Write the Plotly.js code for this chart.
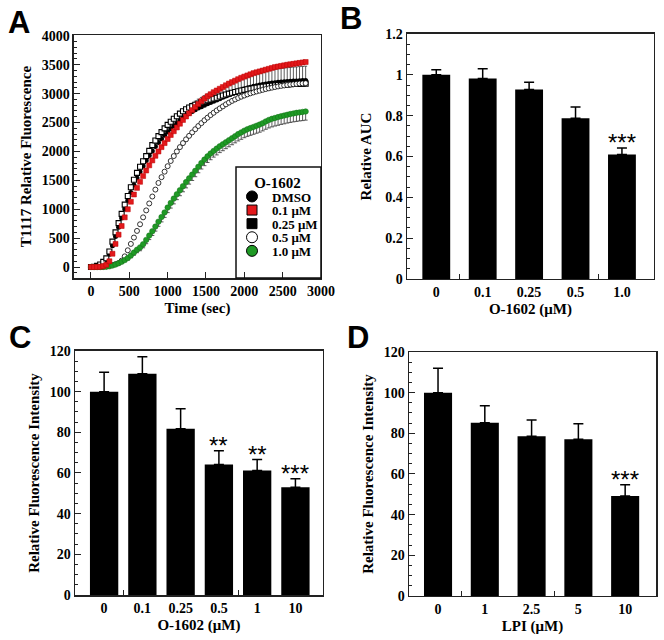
<!DOCTYPE html>
<html><head><meta charset="utf-8">
<script src="https://cdn.plot.ly/plotly-3.0.1.min.js"></script>
<style>html,body{margin:0;padding:0;background:#fff}#chart{width:664px;height:640px}</style>
</head><body><div id="chart"></div>
<script>
// ---------- Panel A: kinetic curves ----------
const timeSec = [0,40,80,120,160,200,240,280,320,360,400,440,480,520,560,600,640,680,720,760,800,840,880,920,960,1000,1040,1080,1120,1160,1200,1240,1280,1320,1360,1400,1440,1480,1520,1560,1600,1640,1680,1720,1760,1800,1840,1880,1920,1960,2000,2040,2080,2120,2160,2200,2240,2280,2320,2360,2400,2440,2480,2520,2560,2600,2640,2680,2720,2760,2800];
const dmso = [0,3,12,30,65,120,220,370,530,690,850,1005,1150,1290,1420,1540,1650,1750,1845,1930,2010,2085,2155,2220,2280,2335,2390,2440,2490,2535,2580,2620,2655,2690,2720,2750,2775,2800,2825,2848,2870,2892,2914,2936,2958,2980,3002,3024,3045,3064,3082,3098,3113,3127,3139,3150,3160,3169,3177,3184,3190,3196,3201,3206,3210,3214,3218,3221,3224,3227,3230];
const dmsoErr = [0,2,5,10,15,20,30,40,45,50,55,60,60,65,65,70,70,70,75,75,80,80,85,90,95,100,105,110,115,120,125,130,140,145,150,155,160,165,170,175,180,185,190,195,200,200,205,210,210,215,215,220,220,225,225,228,230,230,232,234,235,236,238,238,240,240,242,242,244,244,245];
const dose01 = [0,0,2,5,15,40,100,230,400,560,710,860,1000,1130,1255,1370,1475,1575,1670,1760,1845,1925,2000,2075,2145,2215,2285,2350,2415,2480,2545,2605,2660,2715,2770,2820,2870,2915,2955,2990,3025,3055,3085,3115,3145,3175,3200,3225,3250,3275,3295,3315,3335,3355,3370,3385,3400,3415,3430,3445,3460,3470,3480,3490,3500,3508,3516,3524,3532,3540,3548];
const dose025 = [0,5,20,45,90,150,270,440,600,760,920,1080,1230,1380,1510,1630,1735,1830,1920,2010,2110,2190,2265,2335,2400,2460,2515,2565,2610,2655,2695,2730,2760,2785,2808,2830,2850,2868,2885,2900,2915,2930,2950,2968,2985,3000,3015,3030,3042,3055,3066,3077,3087,3096,3105,3113,3120,3127,3133,3139,3144,3149,3153,3157,3160,3163,3166,3168,3170,3172,3174];
const dose05 = [0,0,0,2,6,12,22,35,50,68,110,185,290,400,510,625,740,860,980,1100,1220,1340,1455,1555,1650,1745,1835,1920,2000,2075,2145,2210,2270,2330,2385,2440,2490,2540,2585,2630,2670,2710,2745,2780,2815,2845,2875,2900,2925,2948,2968,2988,3006,3022,3038,3052,3066,3080,3092,3104,3115,3125,3134,3142,3150,3157,3163,3169,3174,3178,3182];
const dose10 = [0,0,0,0,2,5,12,25,42,65,90,120,155,200,250,300,340,395,470,545,620,700,785,865,945,1030,1110,1185,1260,1330,1400,1470,1535,1600,1665,1735,1800,1860,1915,1965,2010,2050,2090,2125,2160,2195,2230,2265,2300,2330,2360,2385,2405,2425,2445,2465,2490,2520,2545,2565,2580,2595,2610,2622,2635,2648,2658,2668,2676,2684,2692];
const dose10Err = [0,0,0,0,2,4,6,10,14,18,22,28,34,40,46,52,58,62,66,70,74,78,80,84,86,88,90,92,94,96,98,100,100,102,102,104,104,106,106,108,108,110,110,112,112,114,114,116,118,120,122,124,126,128,130,132,134,136,138,140,140,142,142,144,144,146,146,148,148,150,150];
const legendTitle = 'O-1602';
const legendLabels = ['DMSO', '0.1 μM', '0.25 μM', '0.5 μM', '1.0 μM'];

// ---------- Panel B: relative AUC ----------
const aucDoses = ['0', '0.1', '0.25', '0.5', '1.0'];
const aucMean = [1.0, 0.982, 0.928, 0.787, 0.61];
const aucSem = [0.025, 0.048, 0.035, 0.055, 0.032];
const aucSig = ['', '', '', '', '***'];

// ---------- Panel C: O-1602 fluorescence ----------
const cDoses = ['0', '0.1', '0.25', '0.5', '1', '10'];
const cMean = [100, 108.8, 81.8, 64.2, 61.2, 53];
const cSem = [9.6, 8.4, 9.8, 6.8, 5.4, 4.2];
const cSig = ['', '', '', '**', '**', '***'];

// ---------- Panel D: LPI fluorescence ----------
const lpiDoses = ['0', '1', '2.5', '5', '10'];
const lpiMean = [100, 85.2, 78.6, 77.1, 49.2];
const lpiSem = [12, 8.4, 7.9, 7.6, 5.5];
const lpiSig = ['', '', '', '', '***'];

const SERIF = '"Liberation Serif", "Times New Roman", serif';
const SANS = '"Liberation Sans", Arial, sans-serif';
const RED = '#e3191c', GREEN = '#1f9a25';
const zeros = a => a.map(() => 0);

const traces = [];
traces.push({type:'scatter', mode:'markers', x:timeSec, y:dmso, xaxis:'x', yaxis:'y', showlegend:false,
  marker:{symbol:'circle', size:5, color:'#000'},
  error_y:{type:'data', symmetric:false, array:dmsoErr, arrayminus:zeros(dmsoErr), color:'#333', thickness:0.8, width:1.5}});
traces.push({type:'scatter', mode:'markers', x:timeSec, y:dose025, xaxis:'x', yaxis:'y', showlegend:false,
  marker:{symbol:'square', size:5, color:'#fff', line:{color:'#000', width:1.1}}});
traces.push({type:'scatter', mode:'markers', x:timeSec, y:dose05, xaxis:'x', yaxis:'y', showlegend:false,
  marker:{symbol:'circle', size:5, color:'#fff', line:{color:'#000', width:0.8}}});
traces.push({type:'scatter', mode:'markers', x:timeSec, y:dose10, xaxis:'x', yaxis:'y', showlegend:false,
  marker:{symbol:'circle', size:5.5, color:GREEN, line:{color:'#137018', width:0.5}},
  error_y:{type:'data', symmetric:false, array:zeros(dose10Err), arrayminus:dose10Err, color:'#333', thickness:0.8, width:2}});
traces.push({type:'scatter', mode:'markers', x:timeSec, y:dose01, xaxis:'x', yaxis:'y', showlegend:false,
  marker:{symbol:'square', size:5, color:RED, line:{color:'#b00', width:0.5}}});

const legendMarkers = [
  {symbol:'circle', size:11, color:'#000', line:{color:'#000', width:1}},
  {symbol:'square', size:10, color:RED, line:{color:'#000', width:1}},
  {symbol:'square', size:10, color:'#000', line:{color:'#000', width:1}},
  {symbol:'circle', size:11, color:'#fff', line:{color:'#000', width:1}},
  {symbol:'circle', size:11, color:GREEN, line:{color:'#000', width:1}}
];
legendLabels.forEach((name, i) => {
  traces.push({type:'scatter', mode:'markers', x:[null], y:[null], xaxis:'x', yaxis:'y', name:name, showlegend:true, marker:legendMarkers[i]});
});

function barTrace(cats, mean, sem, xa, ya, w) {
  return {type:'bar', x:cats.map((_, i) => i), y:mean, width:w, xaxis:xa, yaxis:ya, showlegend:false,
    marker:{color:'#000', line:{width:0}},
    error_y:{type:'data', symmetric:false, array:sem, arrayminus:zeros(sem), color:'#000', thickness:1.5, width:5}};
}
traces.push(barTrace(aucDoses, aucMean, aucSem, 'x2', 'y2', 0.6));
traces.push(barTrace(cDoses, cMean, cSem, 'x3', 'y3', 0.74));
traces.push(barTrace(lpiDoses, lpiMean, lpiSem, 'x4', 'y4', 0.6));

const tickFont = {family:SERIF, size:14, color:'#000', weight:'bold'};
const titleFont = {family:SERIF, size:15, color:'#000', weight:'bold'};
function axis(extra) {
  return Object.assign({showline:true, linecolor:'#222', linewidth:1.5, mirror:true, ticks:'inside', ticklen:6,
    tickwidth:1, tickcolor:'#222', showgrid:false, zeroline:false, tickfont:tickFont, fixedrange:true}, extra);
}
function catAxis(cats, domain, anchor, range, title, minorTicks) {
  return axis({domain:domain, anchor:anchor, range:range, tickmode:'array', tickvals:cats.map((_, i) => i), ticktext:cats,
    ticks:'', minor:{tickmode:'array', tickvals:minorTicks, ticks:'inside', ticklen:5, tickwidth:1, tickcolor:'#222'},
    title:{text:title, font:titleFont, standoff:4}});
}

const layout = {
  width:664, height:640, margin:{l:0, r:0, t:0, b:0}, paper_bgcolor:'#fff', plot_bgcolor:'#fff',
  showlegend:true,
  xaxis: axis({domain:[0.1114, 0.4834], anchor:'y', range:[-222, 3000], tick0:0, dtick:500,
    title:{text:'Time (sec)', font:titleFont, standoff:4}}),
  yaxis: axis({domain:[0.5656, 0.9453], anchor:'x', range:[-190, 4015], tick0:0, dtick:500,
    minor:{dtick:100, ticks:'inside', ticklen:3, tickcolor:'#222'},
    title:{text:'T1117 Relative Fluorescence', font:titleFont, standoff:6}}),
  xaxis2: catAxis(aucDoses, [0.6130, 0.9849], 'y2', [-0.63, 4.69], 'O-1602 (μM)', [0.5, 3.5]),
  yaxis2: axis({domain:[0.5641, 0.9469], anchor:'x2', range:[0, 1.2], tick0:0, dtick:0.2,
    minor:{dtick:0.05, ticks:'inside', ticklen:3, tickcolor:'#222'},
    title:{text:'Relative AUC', font:titleFont, standoff:10}}),
  xaxis3: catAxis(cDoses, [0.1130, 0.4864], 'y3', [-0.76, 5.72], 'O-1602 (μM)', [0.5, 3.5]),
  yaxis3: axis({domain:[0.0703, 0.4516], anchor:'x3', range:[0, 120], tick0:0, dtick:20,
    minor:{dtick:5, ticks:'inside', ticklen:3, tickcolor:'#222'},
    title:{text:'Relative Fluorescence Intensity', font:titleFont, standoff:6}}),
  xaxis4: catAxis(lpiDoses, [0.6160, 0.9880], 'y4', [-0.62, 4.66], 'LPI (μM)', [0.5, 2.5]),
  yaxis4: axis({domain:[0.0688, 0.4500], anchor:'x4', range:[0, 120], tick0:0, dtick:20,
    minor:{dtick:5, ticks:'inside', ticklen:3, tickcolor:'#222'},
    title:{text:'Relative Fluorescence Intensity', font:titleFont, standoff:6}}),
  legend:{x:232/664, xanchor:'left', y:1 - 168/640, yanchor:'top', bgcolor:'rgba(0,0,0,0)', borderwidth:0,
    font:{family:SERIF, size:13, color:'#000', weight:'bold'}, itemwidth:30, tracegroupgap:0,
    title:{text:legendTitle, side:'top center', font:{family:SERIF, size:15, color:'#000', weight:'bold'}}},
  shapes:[{type:'rect', xref:'x domain', yref:'y domain', x0:0.656, x1:1, y0:0, y1:0.457,
    line:{color:'#111', width:1.5}, fillcolor:'rgba(0,0,0,0)', layer:'above'}],
  annotations:[]
};

[['A', 19, 22], ['B', 351, 19], ['C', 20, 337], ['D', 358, 337]].forEach(([t, px, py]) => {
  layout.annotations.push({text:'<b>' + t + '</b>', xref:'paper', yref:'paper', x:px / 664, y:1 - py / 640,
    xanchor:'center', yanchor:'middle', showarrow:false, font:{family:SANS, size:31, color:'#000'}});
});
function stars(sig, mean, sem, xa, ya) {
  sig.forEach((s, i) => {
    if (!s) return;
    layout.annotations.push({text:s, xref:xa, yref:ya, x:i, y:mean[i] + sem[i], yanchor:'bottom', yshift:-10,
      showarrow:false, font:{family:SANS, size:24, color:'#000'}});
  });
}
stars(aucSig, aucMean, aucSem, 'x2', 'y2');
stars(cSig, cMean, cSem, 'x3', 'y3');
stars(lpiSig, lpiMean, lpiSem, 'x4', 'y4');

Plotly.newPlot('chart', traces, layout, {staticPlot:true, displayModeBar:false}).then(gd => {
  // tighten legend row spacing to match the compact key of the original figure
  const items = gd.querySelectorAll('.legend .traces');
  let y0 = null;
  items.forEach((g, i) => {
    const m = /translate\(\s*([-\d.]+)[ ,]+([-\d.]+)\s*\)/.exec(g.getAttribute('transform') || '');
    if (!m) return;
    if (y0 === null) y0 = parseFloat(m[2]) - 6;
    g.setAttribute('transform', 'translate(' + m[1] + ',' + (y0 + i * 13.6) + ')');
  });
});
</script>
</body></html>
